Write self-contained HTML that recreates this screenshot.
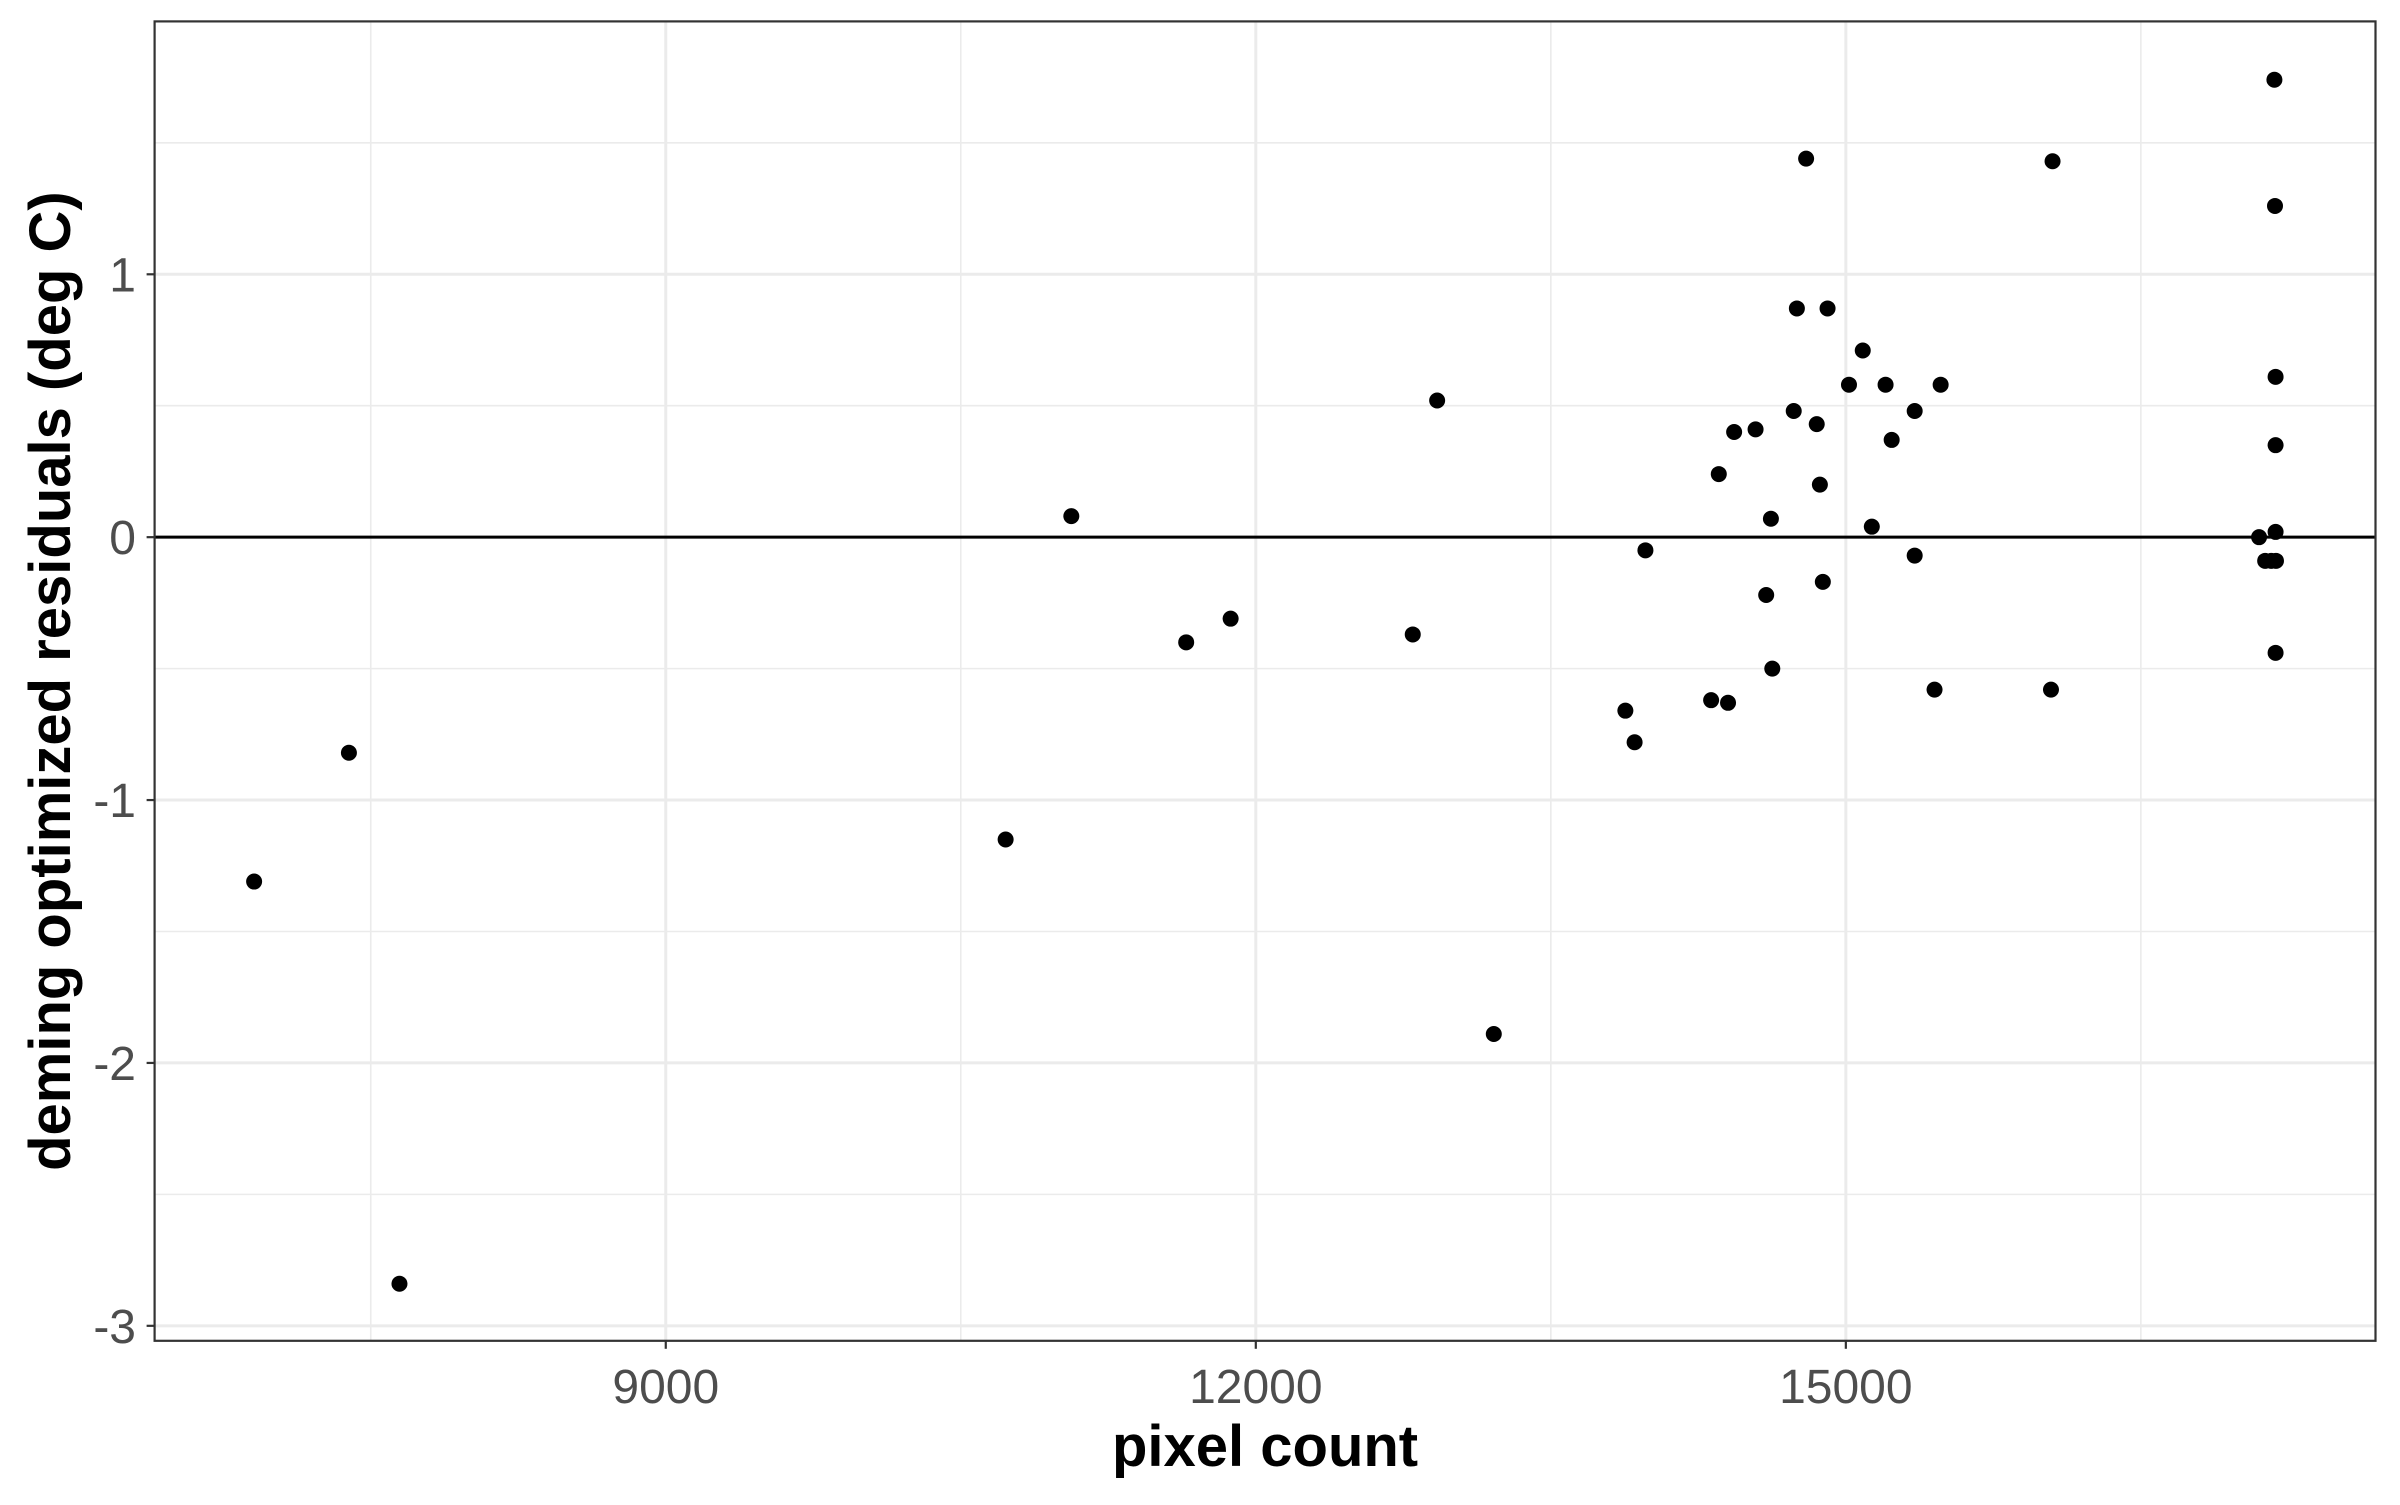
<!DOCTYPE html>
<html><head><meta charset="utf-8"><style>
html,body{margin:0;padding:0;background:#fff;}
svg text{font-family:"Liberation Sans",Arial,sans-serif;}
</style></head><body>
<svg id="chart" width="2400" height="1500" xmlns="http://www.w3.org/2000/svg">
<rect x="0" y="0" width="2400" height="1500" fill="#fff"/>
<g id="grid"></g>
<g id="pts"></g>
<g id="axes"></g>
</svg>
<script>
const xValues=[6907,7389,7646,10728,11062,11646,11872,12798,12922,13210,13879,13926,13981,14315,14354,14401,14432,14541,14595,14619,14626,14735,14751,14798,14852,14868,14883,14907,15016,15086,15132,15202,15233,15350,15350,15451,15482,16051,16043,17101,17132,17163,17187,17179,17182,17185,17185,17185,17185];
const yValues=[-1.31,-0.82,-2.84,-1.15,0.08,-0.40,-0.31,-0.37,0.52,-1.89,-0.66,-0.78,-0.05,-0.62,0.24,-0.63,0.40,0.41,-0.22,0.07,-0.50,0.48,0.87,1.44,0.43,0.20,-0.17,0.87,0.58,0.71,0.04,0.58,0.37,0.48,-0.07,-0.58,0.58,1.43,-0.58,0.0,-0.09,-0.09,-0.09,1.74,1.26,0.61,0.35,0.02,-0.44];
const xTicks=[9000,12000,15000];
const xMinor=[7500,10500,13500,16500];
const yTicks=[-3,-2,-1,0,1];
const yMinor=[-2.5,-1.5,-0.5,0.5,1.5];
const L=154.6,R=2375.5,T=21.4,B=1340.8;
const x0=6401,x1=17693,y0=-3.057,y1=1.962;
const sx=v=>L+(v-x0)/(x1-x0)*(R-L);
const sy=v=>B-(v-y0)/(y1-y0)*(B-T);
const NS="http://www.w3.org/2000/svg";
function mk(tag,attrs,parent,txt){const e=document.createElementNS(NS,tag);for(const k in attrs)e.setAttribute(k,attrs[k]);if(txt!==undefined)e.textContent=txt;parent.appendChild(e);return e;}
const grid=document.getElementById('grid'),pts=document.getElementById('pts'),axes=document.getElementById('axes');
xMinor.forEach(v=>{const e=mk('line',{x1:sx(v),x2:sx(v),y1:T,y2:B,stroke:'#ebebeb','stroke-width':1.6},grid);

});
yMinor.forEach(v=>{const e=mk('line',{x1:L,x2:R,y1:sy(v),y2:sy(v),stroke:'#ebebeb','stroke-width':1.6},grid);

});
xTicks.forEach(v=>{const e=mk('line',{x1:sx(v),x2:sx(v),y1:T,y2:B,stroke:'#ebebeb','stroke-width':3},grid);

});
yTicks.forEach(v=>{const e=mk('line',{x1:L,x2:R,y1:sy(v),y2:sy(v),stroke:'#ebebeb','stroke-width':3},grid);

});
const zl=mk('line',{x1:L,x2:R,y1:sy(0),y2:sy(0),stroke:'#000','stroke-width':3},grid);


xValues.forEach((v,i)=>{const c=mk('circle',{cx:sx(v),cy:sy(yValues[i]),r:8,fill:'#000'},pts);

});
const fr=mk('rect',{x:L,y:T,width:R-L,height:B-T,fill:'none',stroke:'#333','stroke-width':2.2},axes);


xTicks.forEach(v=>{const t=mk('line',{x1:sx(v),x2:sx(v),y1:B,y2:B+8,stroke:'#333','stroke-width':2.2},axes);


const l=mk('text',{x:sx(v),y:1403,'text-anchor':'middle','font-size':48,fill:'#4d4d4d'},axes,String(v));

});
yTicks.forEach(v=>{const t=mk('line',{x1:L-8,x2:L,y1:sy(v),y2:sy(v),stroke:'#333','stroke-width':2.2},axes);


const l=mk('text',{x:136,y:sy(v)+17,'text-anchor':'end','font-size':48,fill:'#4d4d4d'},axes,String(v));

});
const xt=mk('text',{x:(L+R)/2,y:1466,'text-anchor':'middle','font-size':58,'font-weight':'bold',fill:'#000'},axes,'pixel count');


const yt=mk('text',{x:0,y:0,'text-anchor':'middle','font-size':58,'font-weight':'bold',fill:'#000',transform:'translate(70,'+((T+B)/2)+') rotate(-90)'},axes,'deming optimized residuals (deg C)');


</script>
</body></html>
